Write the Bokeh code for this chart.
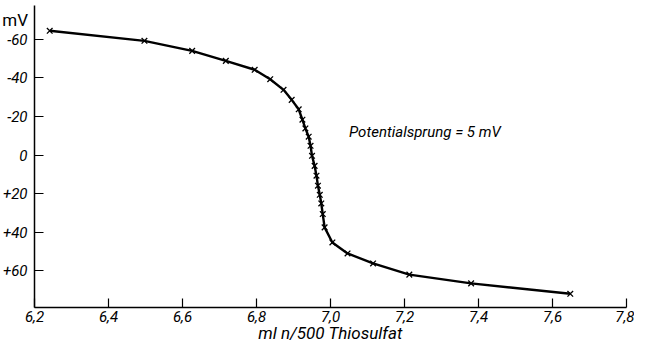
from bokeh.plotting import figure
from bokeh.models import Range1d, FixedTicker, Label, LinearAxis
from bokeh.embed import file_html
from bokeh.resources import INLINE

# titration data: ml n/500 thiosulfate vs potential (mV)
volume_ml = [6.241, 6.497, 6.626, 6.717, 6.795, 6.837, 6.873, 6.895, 6.914, 6.924,
             6.932, 6.941, 6.946, 6.950, 6.957, 6.962, 6.966, 6.971, 6.975, 6.979,
             6.984, 7.005, 7.046, 7.115, 7.213, 7.380, 7.648]
potential_mv = [-64.4, -59.2, -54.0, -48.8, -44.2, -39.3, -33.8, -28.6, -23.7, -18.3,
                -13.8, -9.5, -4.8, 0.4, 5.6, 10.7, 15.9, 20.6, 25.1, 30.6,
                37.5, 45.3, 51.0, 56.2, 62.0, 66.5, 71.9]

x_ticks = [6.2, 6.4, 6.6, 6.8, 7.0, 7.2, 7.4, 7.6, 7.8]
x_tick_labels = ["6,2", "6,4", "6,6", "6,8", "7,0", "7,2", "7,4", "7,6", "7,8"]
y_ticks = [-60, -40, -20, 0, 20, 40, 60]
y_tick_labels = ["-60", "-40", "-20", "0", "+20", "+40", "+60"]

X_MIN, X_MAX = 6.2, 7.8
Y_TOP, Y_BOTTOM = -77.5, 79.0

FONT = "Roboto"

p = figure(width=634, height=344, output_backend="svg", toolbar_location=None,
           x_range=Range1d(6.108, 7.8216), y_range=Range1d(98.2, -80.1),
           x_axis_type=None, y_axis_type=None,
           min_border_left=0, min_border_right=0, min_border_top=0, min_border_bottom=0)
p.outline_line_color = None
p.grid.visible = False
p.background_fill_color = "white"

p.line(volume_ml, potential_mv, line_color="black", line_width=2.4)
p.scatter(volume_ml, potential_mv, marker="x", size=8, line_color="black", line_width=1.3)

xaxis = LinearAxis(fixed_location=Y_BOTTOM, bounds=(X_MIN, X_MAX),
                   ticker=FixedTicker(ticks=x_ticks),
                   major_label_overrides=dict(zip(x_ticks, x_tick_labels)))
yaxis = LinearAxis(fixed_location=X_MIN, bounds=(Y_TOP, Y_BOTTOM),
                   ticker=FixedTicker(ticks=y_ticks),
                   major_label_overrides=dict(zip(y_ticks, y_tick_labels)))
for ax in (xaxis, yaxis):
    ax.axis_line_width = 1.5
    ax.axis_line_color = "black"
    ax.major_tick_line_color = "black"
    ax.major_tick_line_width = 1.2
    ax.major_tick_out = 0
    ax.major_tick_in = 9
    ax.minor_tick_line_color = None
    ax.major_label_text_font = FONT
    ax.major_label_text_font_style = "italic"
    ax.major_label_text_font_size = "15px"
    ax.major_label_text_color = "black"
xaxis.major_label_standoff = 4
yaxis.major_label_standoff = 7
p.add_layout(xaxis, "below")
p.add_layout(yaxis, "left")

p.add_layout(Label(x=6.113, y=-69.8, text="mV", text_font=FONT,
                   text_font_size="17px", text_color="black",
                   text_baseline="alphabetic", text_align="left"))
p.add_layout(Label(x=7.05, y=-11.7, text="Potentialsprung = 5 mV", text_font=FONT,
                   text_font_style="italic", text_font_size="15px", text_color="black",
                   text_baseline="alphabetic", text_align="left"))
p.add_layout(Label(x=7.0, y=97.6, text="ml n/500 Thiosulfat", text_font=FONT,
                   text_font_style="italic", text_font_size="17px", text_color="black",
                   text_baseline="bottom", text_align="center"))

open("out.html", "w").write(file_html(p, INLINE))
